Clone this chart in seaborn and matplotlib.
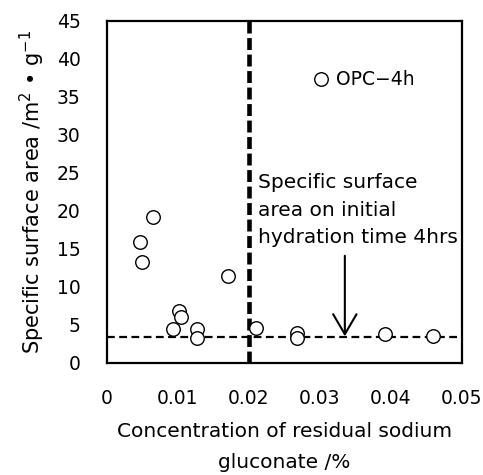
import matplotlib
matplotlib.use("Agg")
import matplotlib.pyplot as plt
import seaborn as sns
import pandas as pd

# residual sodium gluconate (%) vs specific surface area (m2/g)
concentration = [0.0065, 0.0046, 0.0049, 0.0171, 0.0102, 0.0104, 0.0093, 0.0127,
                 0.0127, 0.0210, 0.0268, 0.0268, 0.0392, 0.0459]
surface_area = [19.2, 15.9, 13.3, 11.5, 6.8, 6.0, 4.4, 4.4,
                3.3, 4.6, 3.9, 3.3, 3.8, 3.6]

opc_x, opc_y = 0.0302, 37.3
initial_area = 3.4
threshold = 0.02

x_ticks = [0, 0.01, 0.02, 0.03, 0.04, 0.05]
x_tick_labels = ["0", "0.01", "0.02", "0.03", "0.04", "0.05"]
y_ticks = [0, 5, 10, 15, 20, 25, 30, 35, 40, 45]

sns.set_style("white")
plt.rcParams["font.family"] = ["DejaVu Sans"]
plt.rcParams["mathtext.fontset"] = "dejavusans"
plt.rcParams["text.color"] = "black"
plt.rcParams["axes.labelcolor"] = "black"

df = pd.DataFrame({"conc": concentration, "ssa": surface_area})

fig = plt.figure(figsize=(4.83, 4.75), dpi=100)
ax = fig.add_axes([0.2215, 0.236, 0.735, 0.72])

sns.scatterplot(data=df, x="conc", y="ssa", ax=ax, s=95, facecolor="white",
                edgecolor="black", linewidth=1.0, zorder=3)

ax.axhline(initial_area, color="black", linestyle=(0, (3.5, 2)), linewidth=1.6, zorder=2)
ax.axvline(threshold, color="black", linestyle=(0, (2.6, 1.0)), linewidth=3.3, zorder=2)

# OPC-4h legend-like marker
ax.scatter([opc_x], [opc_y], s=95, facecolor="white", edgecolor="black", linewidth=1.0, zorder=3)
ax.text(opc_x + 0.0021, opc_y, "OPC\u22124h", fontsize=13.5, va="center", ha="left")

ax.text(0.0213, 20.1, "Specific surface\narea on initial\nhydration time 4hrs",
        fontsize=14.5, va="center", ha="left", linespacing=1.55)
ax.annotate("", xy=(0.0335, 3.5), xytext=(0.0335, 14.1),
            arrowprops=dict(arrowstyle="->,head_length=0.36,head_width=0.21",
                            color="black", linewidth=1.5, mutation_scale=40,
                            shrinkA=0, shrinkB=0))

ax.set_xlim(0, 0.05)
ax.set_ylim(0, 45)
ax.set_xticks(x_ticks)
ax.set_xticklabels(x_tick_labels)
ax.set_yticks(y_ticks)
ax.tick_params(direction="in", length=5, width=1, labelsize=13.5, pad=19,
               colors="black")
ax.set_xlabel("Concentration of residual sodium\ngluconate /%", fontsize=14.5,
              labelpad=10, linespacing=1.8)
ax.set_ylabel("Specific surface area /m$^2$ \u2022 g$^{-1}$", fontsize=15, labelpad=7)

for spine in ax.spines.values():
    spine.set_visible(True)
    spine.set_color("black")
    spine.set_linewidth(1.6)

fig.savefig("out.png", dpi=100)
